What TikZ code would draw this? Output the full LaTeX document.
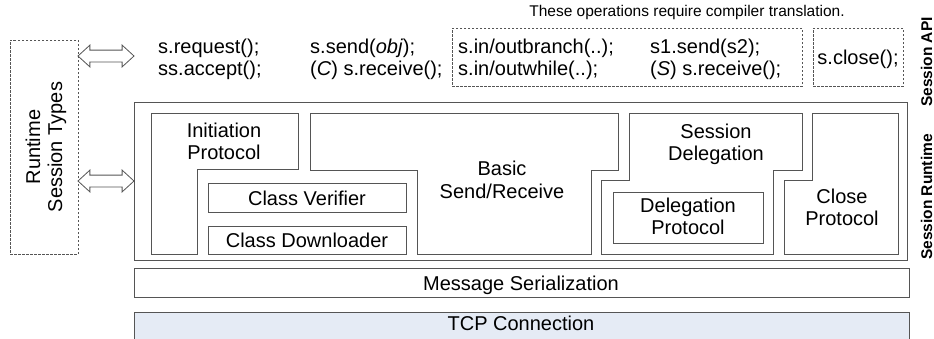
\documentclass[tikz,border=0pt]{standalone}
\usepackage{fontspec}
\setmainfont{Liberation Sans}
\usetikzlibrary{shapes.arrows,fit}
\definecolor{lg}{HTML}{555555}
\definecolor{tcpfill}{HTML}{E5EBF5}
\begin{document}
\begin{tikzpicture}[x=1pt,y=-1pt,
  box/.style={draw=lg, line width=0.8pt, inner sep=0pt},
  dbox/.style={draw=lg, line width=0.8pt, dash pattern=on 2.5pt off 1.5pt, inner sep=0pt},
  big/.style={font=\fontsize{20}{23}\selectfont, inner sep=0pt},
  bl/.style={big, anchor=base},
  blw/.style={big, anchor=base west},
  side/.style={font=\bfseries\fontsize{15.5}{18}\selectfont, rotate=90, inner sep=0pt, anchor=base},
  dbl/.style={double arrow, draw=lg, line width=0.8pt, fill=white, minimum height=56pt,
    double arrow head extend=5pt, inner xsep=0pt, inner ysep=5.5pt,
    double arrow tip angle=85, text height=0pt, text depth=0pt, text width=0pt}
]
\useasboundingbox (0,0) rectangle (934,338);

% boxes
\node[dbox, fit={(10,40) (78,254)}] (rst) {};
\node[dbox, fit={(452,28) (802,86)}] (apitrans) {};
\node[dbox, fit={(813,28) (903,86)}] (apiclose) {};
\node[box, fit={(134,102) (907,260)}] (runtime) {};
\node[box, fit={(208,183) (406,212)}] (verif) {};
\node[box, fit={(208,226) (406,254)}] (downl) {};
\node[box, fit={(613,192) (763,243)}] (delprot) {};
\node[box, fit={(134,268) (909,297)}] (msg) {};
\node[box, fill=tcpfill, fit={(134,312) (909,350)}] (tcp) {};

% stepped component outlines
\draw[box] (151,113) -- (298,113) -- (298,169) -- (197,169) -- (197,254) -- (151,254) -- cycle;
\draw[box] (310,113) -- (618,113) -- (618,170) -- (591,170) -- (591,254) -- (417,254) -- (417,170) -- (310,170) -- cycle;
\draw[box] (629,113) -- (802,113) -- (802,170) -- (773,170) -- (773,254) -- (601,254) -- (601,180) -- (629,180) -- cycle;
\draw[box] (812,113) -- (898,113) -- (898,254) -- (784,254) -- (784,180) -- (812,180) -- cycle;

% double arrows
\node[dbl] (arrapi) at (106,56) {};
\node[dbl] (arrrt) at (106,181) {};

% texts
\node[big, rotate=90, anchor=base] (rst1) at (40,147) {Runtime};
\node[big, rotate=90, anchor=base] (rst2) at (62,147) {Session Types};

\node[font=\fontsize{15.5}{18}\selectfont, anchor=base, inner sep=0pt] (cap) at (687,16) {These operations require compiler translation.};

\node[blw] (req) at (158,53) {s.request();};
\node[blw] (acc) at (158,75) {ss.accept();};
\node[blw] (snd) at (310,53) {s.send(\textit{obj});};
\node[blw] (rcv) at (310,75) {(\textit{C}) s.receive();};
\node[blw] (br) at (458,53) {s.in/outbranch(..);};
\node[blw] (wh) at (458,75) {s.in/outwhile(..);};
\node[blw] (s1s) at (650,53) {s1.send(s2);};
\node[blw] (srcv) at (650,75) {(\textit{S}) s.receive();};
\node[bl] (cls) at (858,64) {s.close();};

\node[bl] (ini1) at (224,137) {Initiation};
\node[bl] (ini2) at (224,159) {Protocol};
\node[bl] (bas1) at (502,175) {Basic};
\node[bl] (bas2) at (502,198) {Send/Receive};
\node[bl] (sd1) at (716,138) {Session};
\node[bl] (sd2) at (716,160) {Delegation};
\node[bl] (dp1) at (688,212) {Delegation};
\node[bl] (dp2) at (688,234) {Protocol};
\node[bl] (cp1) at (842,203) {Close};
\node[bl] (cp2) at (842,225) {Protocol};
\node[bl] (cvt) at (307,205) {Class Verifier};
\node[bl] (cdt) at (307,247) {Class Downloader};
\node[bl] (msgt) at (521,290) {Message Serialization};
\node[bl] (tcpt) at (521,330) {TCP Connection};

\node[side] (sapi) at (932,62) {Session API};
\node[side] (srt) at (932,197) {Session Runtime};
\end{tikzpicture}
\end{document}
